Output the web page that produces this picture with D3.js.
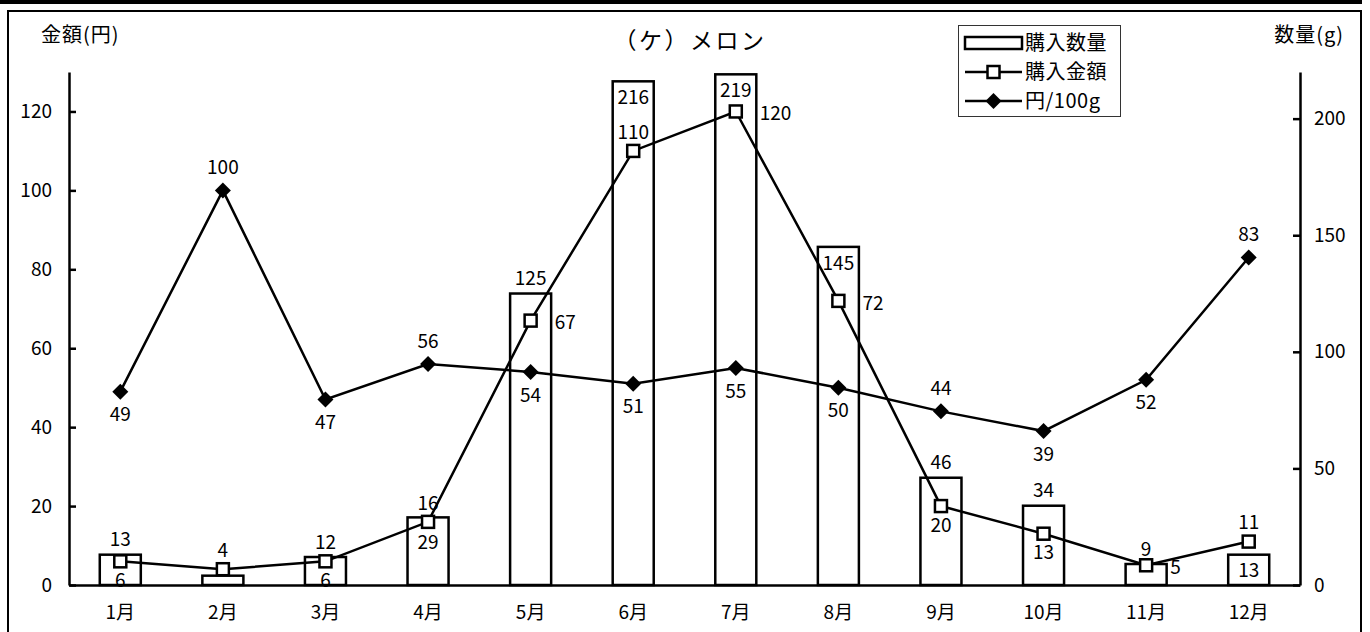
<!DOCTYPE html>
<html>
<head>
<meta charset="utf-8">
<title>メロン</title>
<script src="https://cdn.jsdelivr.net/npm/d3@7"></script>
<style>
  body { margin: 0; background: #fff; }
  svg text { font-family: "Noto Sans CJK JP", "Noto Sans", sans-serif; fill: #000; }
</style>
</head>
<body>
<svg id="chart" width="1370" height="632"></svg>
<script>
// data
var months = ["1月", "2月", "3月", "4月", "5月", "6月", "7月", "8月", "9月", "10月", "11月", "12月"];
var qty = [13, 4, 12, 29, 125, 216, 219, 145, 46, 34, 9, 13];          // 購入数量 (g), right axis
var amount = [6, 4, 6, 16, 67, 110, 120, 72, 20, 13, 5, 11];           // 購入金額 (円), left axis
var perGram = [49, 100, 47, 56, 54, 51, 55, 50, 44, 39, 52, 83];       // 円/100g, left axis
var leftTicks = [0, 20, 40, 60, 80, 100, 120];
var rightTicks = [0, 50, 100, 150, 200];

// where each data label sits
var qtyPos = ["above", null, "above", "under", "above", "inside", "inside", "inside", "above", "above", "above", "inside"];
var amtPos = ["below", "above", "below", "above", "right", "above", "right", "right", "below", "below", "right", "above"];
var ratioPos = ["below", "above", "below", "above", "below", "below", "below", "below", "above", "below", "below", "above"];

var svg = d3.select("#chart");
var margin = {top: 72, right: 70, bottom: 47, left: 69},
    W = +svg.attr("width"), H = +svg.attr("height");

// frames
svg.append("rect").attr("x", 0).attr("y", 0).attr("width", 1362).attr("height", 4).attr("fill", "#000");
svg.append("rect").attr("x", 8).attr("y", 11).attr("width", 1353).attr("height", 640)
    .attr("fill", "none").attr("stroke", "#000").attr("stroke-width", 2);

var x = d3.scaleBand()
    .domain(months)
    .range([margin.left, W - margin.right])
    .paddingInner(0.6)
    .paddingOuter(0.3);
var cx = m => x(m) + x.bandwidth() / 2;

var yL = d3.scaleLinear().domain([0, 130]).range([H - margin.bottom, margin.top]);
var yR = d3.scaleLinear().domain([0, 220]).range([H - margin.bottom, margin.top]);

// bars
var rows = months.map((m, i) => ({m: m, q: qty[i], a: amount[i], r: perGram[i], i: i}));

svg.append("g").selectAll("rect")
    .data(rows).join("rect")
    .attr("x", d => x(d.m))
    .attr("y", d => yR(d.q))
    .attr("width", x.bandwidth())
    .attr("height", d => yR(0) - yR(d.q))
    .attr("fill", "#fff")
    .attr("stroke", "#000")
    .attr("stroke-width", 2.5);

// axes
var gx = svg.append("g")
    .attr("transform", `translate(0,${H - margin.bottom})`)
    .call(d3.axisBottom(x).tickSize(0).tickPadding(21));
var gl = svg.append("g")
    .attr("transform", `translate(${margin.left},0)`)
    .call(d3.axisLeft(yL).tickValues(leftTicks).tickSizeInner(-7).tickSizeOuter(0).tickPadding(17));
var gr = svg.append("g")
    .attr("transform", `translate(${W - margin.right},0)`)
    .call(d3.axisRight(yR).tickValues(rightTicks).tickSizeInner(-7).tickSizeOuter(0).tickPadding(14));
[gx, gl, gr].forEach(g => {
    g.select(".domain").attr("stroke", "#000").attr("stroke-width", 2.5);
    g.selectAll(".tick line").attr("stroke", "#000").attr("stroke-width", 2.5);
    g.selectAll("text").attr("font-size", 19).attr("font-family", null);
});

// axis titles and title
svg.append("text").attr("x", 41).attr("y", 35).attr("dy", "0.35em")
    .attr("font-size", 20).attr("letter-spacing", 1).text("金額(円)");
svg.append("text").attr("x", 1344).attr("y", 35).attr("dy", "0.35em")
    .attr("text-anchor", "end").attr("font-size", 20).attr("letter-spacing", 1).text("数量(g)");
svg.append("text").attr("x", 690).attr("y", 41).attr("dy", "0.35em")
    .attr("text-anchor", "middle").attr("font-size", 23).attr("letter-spacing", 2.5)
    .text("（ケ）メロン");

// lines
var amtLine = d3.line().x(d => cx(d.m)).y(d => yL(d.a));
var ratioLine = d3.line().x(d => cx(d.m)).y(d => yL(d.r));

svg.append("path").datum(rows).attr("d", amtLine)
    .attr("fill", "none").attr("stroke", "#000").attr("stroke-width", 2.5);
svg.append("path").datum(rows).attr("d", ratioLine)
    .attr("fill", "none").attr("stroke", "#000").attr("stroke-width", 2.5);

var sq = 12, dm = 8;
function square(g, px, py) {
    g.append("rect").attr("x", px - sq / 2).attr("y", py - sq / 2)
        .attr("width", sq).attr("height", sq)
        .attr("fill", "#fff").attr("stroke", "#000").attr("stroke-width", 2.5);
}
function diamond(g, px, py) {
    g.append("path")
        .attr("d", `M${px},${py - dm}L${px + dm},${py}L${px},${py + dm}L${px - dm},${py}Z`)
        .attr("fill", "#000");
}

var marks = svg.append("g");
rows.forEach(d => square(marks, cx(d.m), yL(d.a)));
rows.forEach(d => diamond(marks, cx(d.m), yL(d.r)));

// data labels
var labels = svg.append("g").attr("font-size", 19);
function label(px, py, pos, text, gap) {
    if (!pos) return;
    var dx = 0, dy = 0, anchor = "middle";
    if (pos === "above") dy = -gap;
    if (pos === "below") dy = gap;
    if (pos === "right") { dx = 24; dy = 2; anchor = "start"; }
    labels.append("text")
        .attr("x", px + dx).attr("y", py + dy).attr("dy", "0.35em")
        .attr("text-anchor", anchor).text(text);
}

rows.forEach(d => {
    var p = qtyPos[d.i], top = yR(d.q);
    if (p === "above") label(cx(d.m), top, "above", d.q, 15);
    if (p === "inside") label(cx(d.m), top, "below", d.q, 16);
    if (p === "under") label(cx(d.m), top, "below", d.q, 25);
});
rows.forEach(d => label(cx(d.m), yL(d.a), amtPos[d.i], d.a, 19));
rows.forEach(d => label(cx(d.m), yL(d.r), ratioPos[d.i], d.r, 23));

// legend
var lg = svg.append("g");
lg.append("rect").attr("x", 958.5).attr("y", 25.5).attr("width", 162).attr("height", 91)
    .attr("fill", "#fff").attr("stroke", "#333").attr("stroke-width", 1);
var ly = [43, 72, 101], lx0 = 965, lx1 = 1022, lmid = (lx0 + lx1) / 2;
lg.append("rect").attr("x", lx0).attr("y", ly[0] - 6).attr("width", lx1 - lx0).attr("height", 12)
    .attr("fill", "#fff").attr("stroke", "#000").attr("stroke-width", 2.5);
[1, 2].forEach(k => lg.append("line").attr("x1", lx0).attr("x2", lx1)
    .attr("y1", ly[k]).attr("y2", ly[k]).attr("stroke", "#000").attr("stroke-width", 2.5));
square(lg, lmid, ly[1]);
diamond(lg, lmid, ly[2]);
["購入数量", "購入金額", "円/100g"].forEach((t, k) =>
    lg.append("text").attr("x", 1025).attr("y", ly[k]).attr("dy", "0.35em")
        .attr("font-size", 20).attr("letter-spacing", 0.5).text(t));
</script>
</body>
</html>
